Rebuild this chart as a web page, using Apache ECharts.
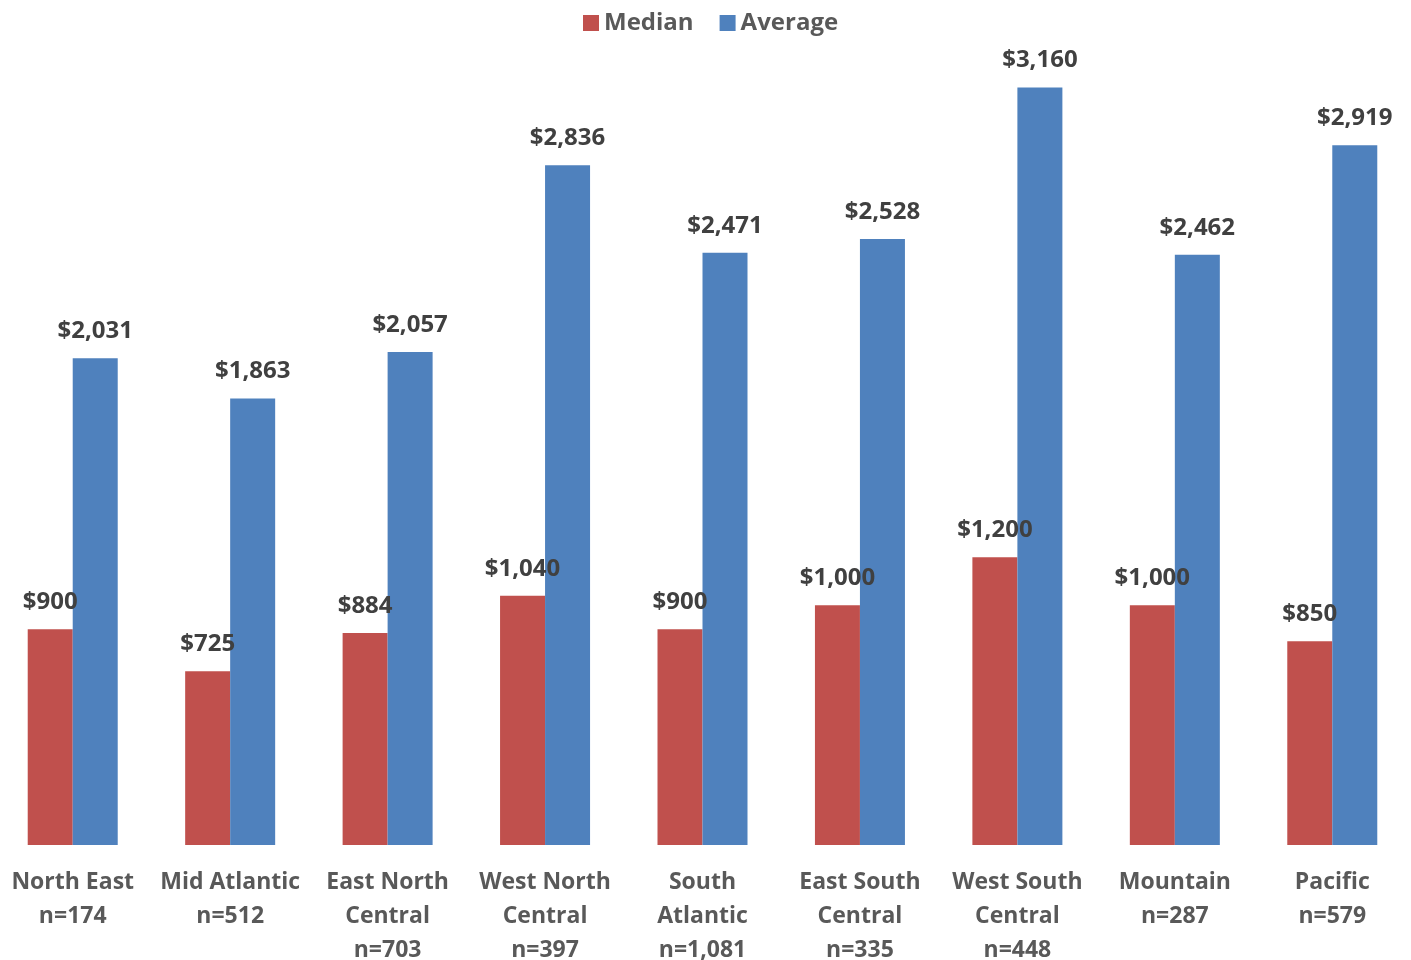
<!DOCTYPE html>
<html>
<head>
<meta charset="utf-8">
<script src="https://cdn.jsdelivr.net/npm/echarts@6/dist/echarts.min.js"></script>
<style>
  html, body { margin: 0; padding: 0; background: #fff; }
  #chart { width: 1411px; height: 960px; }
</style>
</head>
<body>
<div id="chart"></div>
<script>
const regions = [
  'North East\nn=174', 'Mid Atlantic\nn=512', 'East North\nCentral\nn=703',
  'West North\nCentral\nn=397', 'South\nAtlantic\nn=1,081', 'East South\nCentral\nn=335',
  'West South\nCentral\nn=448', 'Mountain\nn=287', 'Pacific\nn=579',
]
const median = [900, 725, 884, 1040, 900, 1000, 1200, 1000, 850]
const average = [2031, 1863, 2057, 2836, 2471, 2528, 3160, 2462, 2919]

const FONT = '"Open Sans", "Liberation Sans", sans-serif'
const fmt = (p) => '$' + p.value.toLocaleString('en-US')

const labelStyle = {
  show: true,
  position: 'top',
  distance: 15,
  formatter: fmt,
  color: '#404040',
  fontFamily: FONT,
  fontWeight: 'bold',
  fontSize: 24,
}

const chart = echarts.init(document.getElementById('chart'), null, { renderer: 'canvas' })

chart.setOption({
  animation: false,
  legend: {
    data: ['Median', 'Average'],
    top: 6,
    left: 578,
    icon: 'rect',
    itemWidth: 16,
    itemHeight: 16,
    itemGap: 26,
    textStyle: { color: '#595959', fontFamily: FONT, fontWeight: 'bold', fontSize: 24 },
  },
  grid: { left: -6, right: 0, top: 30, bottom: 115, outerBoundsMode: 'none', containLabel: false },
  xAxis: {
    type: 'category',
    data: regions,
    axisLine: { show: false },
    axisTick: { show: false },
    axisLabel: {
      interval: 0,
      margin: 20,
      color: '#595959',
      fontFamily: FONT,
      fontWeight: 'bold',
      fontSize: 23,
      lineHeight: 34,
    },
  },
  yAxis: {
    type: 'value',
    min: 0,
    max: 3400,
    show: false,
    splitLine: { show: false },
  },
  series: [
    {
      name: 'Median',
      type: 'bar',
      data: median,
      barWidth: 45,
      barGap: '0%',
      itemStyle: { color: '#C0504D' },
      label: labelStyle,
    },
    {
      name: 'Average',
      type: 'bar',
      data: average,
      barWidth: 45,
      itemStyle: { color: '#4F81BD' },
      label: labelStyle,
    },
  ],
})
</script>
</body>
</html>
